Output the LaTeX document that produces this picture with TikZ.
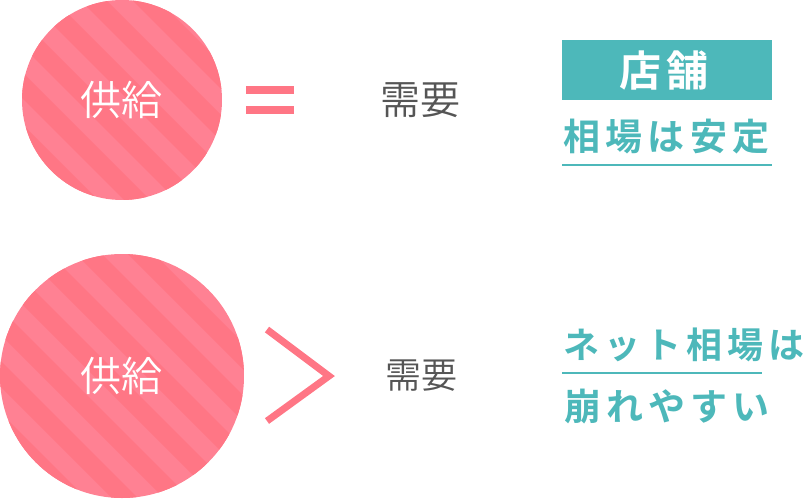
\documentclass[tikz,border=0pt]{standalone}
\usepackage{fontspec}
\newfontfamily\jpthin{Noto Sans CJK JP DemiLight}
\newfontfamily\jpmed[LetterSpace=14]{Noto Sans CJK JP Bold}
\newfontfamily\jpshop[LetterSpace=12]{Noto Sans CJK JP Bold}
\definecolor{pinkA}{HTML}{FF8193}
\definecolor{pinkB}{HTML}{FF7685}
\definecolor{teal1}{HTML}{4DB8BA}
\definecolor{gray1}{HTML}{555555}
\tikzset{
  x=1pt,y=-1pt,
  pinktext/.style={text=white,inner sep=0pt,anchor=center},
  graytext/.style={text=gray1,inner sep=0pt,anchor=center},
  tealtext/.style={text=teal1,inner sep=0pt,anchor=center},
  symbol/.style={fill=pinkB,draw=none},
}
\newcommand{\stripedcircle}[4]{%
  \begin{scope}
    \clip (#1,#2) circle[radius=#3];
    \fill[pinkA] (#1-#3,#2-#3) rectangle (#1+#3,#2+#3);
    \pgfmathsetmacro{\ytop}{#2-#3-5}
    \pgfmathsetmacro{\ybot}{#2+#3+5}
    \foreach \k in {-8,...,8}{
      \pgfmathsetmacro{\aa}{#4+52*\k}
      \fill[pinkB] ({\ytop+\aa-13},\ytop) -- ({\ytop+\aa+13},\ytop) -- ({\ybot+\aa+13},\ybot) -- ({\ybot+\aa-13},\ybot) -- cycle;
    }
  \end{scope}%
}
\begin{document}
\begin{tikzpicture}
\useasboundingbox (0,0) rectangle (810,500);
\stripedcircle{122}{100}{100}{-63}
\stripedcircle{122}{376}{122}{-269}
\node[pinktext,font=\jpthin\fontsize{41}{41}\selectfont] (supplyA) at (121,100) {供給};
\node[pinktext,font=\jpthin\fontsize{41}{41}\selectfont] (supplyB) at (121,376) {供給};
\fill[symbol] (246,86) rectangle (294,94);
\fill[symbol] (246,106) rectangle (294,114);
\draw[pinkB,line width=7pt,miter limit=10] (267,329.5) -- (329,376) -- (267,421);
\node[graytext,font=\jpthin\fontsize{40}{40}\selectfont] (demandA) at (420,100) {需要};
\node[graytext,font=\jpthin\fontsize{36}{36}\selectfont] (demandB) at (421,376) {需要};
\node[fill=teal1,minimum width=210pt,minimum height=60pt,inner sep=0pt] (shop) at (667,70) {};
\node[text=white,inner sep=0pt,font=\jpshop\fontsize{42}{42}\selectfont] (shoptext) at (664,71) {店舗};
\node[tealtext,font=\jpmed\fontsize{37}{37}\selectfont] (stable) at (666.5,137) {相場は安定};
\draw[teal1,line width=2pt] (562,165) -- (772,165);
\node[tealtext,font=\jpmed\fontsize{36}{36}\selectfont] (net) at (684,345) {ネット相場は};
\draw[teal1,line width=2pt] (562,373) -- (762,373);
\node[tealtext,font=\jpmed\fontsize{37}{37}\selectfont] (fall) at (667,407) {崩れやすい};
\end{tikzpicture}
\end{document}
